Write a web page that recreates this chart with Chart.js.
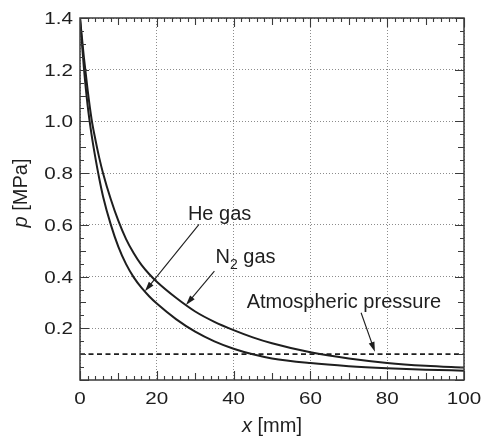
<!DOCTYPE html>
<html>
<head>
<meta charset="utf-8">
<script src="https://cdn.jsdelivr.net/npm/chart.js@4.4.0/dist/chart.umd.min.js"></script>
<style>
  html, body { margin: 0; padding: 0; background: #fff; }
  #wrap { width: 487px; height: 436px; }
</style>
</head>
<body>
<div id="wrap"><canvas id="pressureChart" width="487" height="436"></canvas></div>
<script>
// Pressure decay along the channel (x in mm, p in MPa)
const heX = [0, 1, 2, 3, 4, 5, 6, 8, 10, 12, 14, 16, 18, 20, 25, 30, 35, 40, 45, 50, 60, 70, 80, 90, 100];
const heP = [1.4, 1.21, 1.06, 0.95, 0.86, 0.78, 0.71, 0.602, 0.515, 0.448, 0.397, 0.357, 0.324, 0.2955,
             0.2355, 0.187, 0.1495, 0.121, 0.0995, 0.0835, 0.0655, 0.0535, 0.0455, 0.040, 0.036];

const n2X = [0, 1, 2, 3, 4, 5, 6, 8, 10, 12, 14, 16, 18, 20, 25, 30, 35, 40, 45, 50, 60, 70, 80, 90, 100];
const n2P = [1.4, 1.25, 1.12, 1.01, 0.93, 0.86, 0.80, 0.70, 0.615, 0.545, 0.49, 0.445, 0.41, 0.38,
             0.318, 0.265, 0.225, 0.193, 0.165, 0.142, 0.107, 0.083, 0.066, 0.055, 0.048];

const atmP = 0.1;            // atmospheric pressure, MPa
const xRange = [0, 100];

const xTickVals = [0, 20, 40, 60, 80, 100];
const yTickVals = [0.2, 0.4, 0.6, 0.8, 1.0, 1.2, 1.4];

// callouts: text anchor and arrow (data units)
const notes = [
  { text: 'He gas', at: [28.1, 0.619], from: [31.0, 0.602], to: [16.9, 0.343] },
  { text: 'N', sub: '2', after: ' gas', at: [35.3, 0.454], from: [35.0, 0.421], to: [27.6, 0.29] },
  { text: 'Atmospheric pressure', at: [43.4, 0.277], from: [73.2, 0.26], to: [76.8, 0.109] }
];

const FONT = "'Liberation Sans', Arial, Helvetica, sans-serif";
const INK = '#1e1e1e';

const toPoints = (xs, ys) => xs.map((v, i) => ({ x: v, y: ys[i] }));

function wideText(ctx, s, x, y, sx) {
  ctx.save();
  ctx.translate(x, y);
  ctx.scale(sx, 1);
  ctx.fillText(s, 0, 0);
  ctx.restore();
}

function arrow(ctx, x1, y1, x2, y2) {
  const ang = Math.atan2(y2 - y1, x2 - x1);
  const L = 10, W = 3;
  ctx.beginPath();
  ctx.moveTo(x1, y1);
  ctx.lineTo(x2 - Math.cos(ang) * L * 0.8, y2 - Math.sin(ang) * L * 0.8);
  ctx.stroke();
  ctx.beginPath();
  ctx.moveTo(x2, y2);
  ctx.lineTo(x2 - Math.cos(ang) * L - Math.sin(ang) * W, y2 - Math.sin(ang) * L + Math.cos(ang) * W);
  ctx.lineTo(x2 - Math.cos(ang) * L + Math.sin(ang) * W, y2 - Math.sin(ang) * L - Math.cos(ang) * W);
  ctx.closePath();
  ctx.fill();
}

// frame, inward ticks, labels and callouts
const decor = {
  id: 'decor',
  afterDraw(chart) {
    const { ctx, chartArea: a, scales: { x, y } } = chart;
    ctx.save();

    ctx.strokeStyle = '#3a3a3a';
    ctx.lineWidth = 1.5;
    ctx.strokeRect(a.left, a.top, a.right - a.left, a.bottom - a.top);

    ctx.lineWidth = 1.1;
    ctx.beginPath();
    for (let v = 0; v <= 100; v += 2) {
      const px = Math.round(x.getPixelForValue(v)) + 0.5;
      const len = v % 20 === 0 ? 9 : v % 10 === 0 ? 7 : 4;
      ctx.moveTo(px, a.bottom); ctx.lineTo(px, a.bottom - len);
      ctx.moveTo(px, a.top); ctx.lineTo(px, a.top + len);
    }
    for (let k = 0; k <= 28; k++) {
      const py = Math.round(y.getPixelForValue(k * 0.05)) + 0.5;
      const len = k % 4 === 0 ? 9 : k % 2 === 0 ? 6 : 4;
      ctx.moveTo(a.left, py); ctx.lineTo(a.left + len, py);
      ctx.moveTo(a.right, py); ctx.lineTo(a.right - len, py);
    }
    ctx.stroke();

    // tick labels
    ctx.fillStyle = INK;
    ctx.font = '16.5px ' + FONT;
    ctx.textBaseline = 'alphabetic';
    ctx.textAlign = 'right';
    yTickVals.forEach(v => {
      wideText(ctx, v.toFixed(1), a.left - 7, y.getPixelForValue(v) + 6, 1.25);
    });
    ctx.textAlign = 'center';
    xTickVals.forEach(v => {
      wideText(ctx, String(v), x.getPixelForValue(v), a.bottom + 23.5, 1.25);
    });

    // axis titles
    ctx.textAlign = 'left';
    const xt1 = 'x', xt2 = ' [mm]';
    ctx.font = 'italic 20px ' + FONT;
    const w1 = ctx.measureText(xt1).width;
    ctx.font = '20px ' + FONT;
    const w2 = ctx.measureText(xt2).width;
    const sx = (a.left + a.right) / 2 - (w1 + w2) / 2;
    ctx.font = 'italic 20px ' + FONT;
    ctx.fillText(xt1, sx, 432);
    ctx.font = '20px ' + FONT;
    ctx.fillText(xt2, sx + w1, 432);

    ctx.save();
    ctx.translate(27, 193);
    ctx.rotate(-Math.PI / 2);
    const yt1 = 'p', yt2 = ' [MPa]';
    ctx.font = 'italic 20px ' + FONT;
    const v1 = ctx.measureText(yt1).width;
    ctx.font = '20px ' + FONT;
    const v2 = ctx.measureText(yt2).width;
    ctx.font = 'italic 20px ' + FONT;
    ctx.fillText(yt1, -(v1 + v2) / 2, 0);
    ctx.font = '20px ' + FONT;
    ctx.fillText(yt2, -(v1 + v2) / 2 + v1, 0);
    ctx.restore();

    // callouts
    ctx.strokeStyle = INK;
    ctx.lineWidth = 1.1;
    notes.forEach(n => {
      const tx = x.getPixelForValue(n.at[0]);
      const ty = y.getPixelForValue(n.at[1]);
      ctx.font = '20px ' + FONT;
      ctx.fillText(n.text, tx, ty);
      if (n.sub) {
        const wn = ctx.measureText(n.text).width;
        ctx.font = '14px ' + FONT;
        ctx.fillText(n.sub, tx + wn, ty + 6);
        const ws = ctx.measureText(n.sub).width;
        ctx.font = '20px ' + FONT;
        ctx.fillText(n.after, tx + wn + ws, ty);
      }
      arrow(ctx,
        x.getPixelForValue(n.from[0]), y.getPixelForValue(n.from[1]),
        x.getPixelForValue(n.to[0]), y.getPixelForValue(n.to[1]));
    });

    ctx.restore();
  }
};

const gridStyle = { color: '#8c8c8c', lineWidth: 1, drawTicks: false };

new Chart(document.getElementById('pressureChart'), {
  type: 'line',
  data: {
    datasets: [
      { label: 'He gas', data: toPoints(heX, heP), borderColor: INK, borderWidth: 2,
        pointRadius: 0, cubicInterpolationMode: 'monotone' },
      { label: 'N2 gas', data: toPoints(n2X, n2P), borderColor: INK, borderWidth: 2,
        pointRadius: 0, cubicInterpolationMode: 'monotone' },
      { label: 'Atmospheric pressure', data: toPoints(xRange, [atmP, atmP]), borderColor: INK,
        borderWidth: 1.6, borderDash: [5, 3.5], pointRadius: 0 }
    ]
  },
  options: {
    responsive: false,
    animation: false,
    devicePixelRatio: 1,
    layout: { padding: { left: 0, top: 18, right: 23, bottom: 0 } },
    plugins: { legend: { display: false }, tooltip: { enabled: false } },
    scales: {
      x: {
        type: 'linear', min: 0, max: 100,
        afterBuildTicks: s => { s.ticks = xTickVals.map(v => ({ value: v })); },
        afterFit: s => { s.height = 56; },
        ticks: { display: false },
        grid: gridStyle,
        border: { display: false, dash: [1, 2] }
      },
      y: {
        min: 0, max: 1.4,
        afterBuildTicks: s => { s.ticks = yTickVals.map(v => ({ value: v })); },
        afterFit: s => { s.width = 80; },
        ticks: { display: false },
        grid: gridStyle,
        border: { display: false, dash: [1, 2] }
      }
    }
  },
  plugins: [decor]
});
</script>
</body>
</html>
